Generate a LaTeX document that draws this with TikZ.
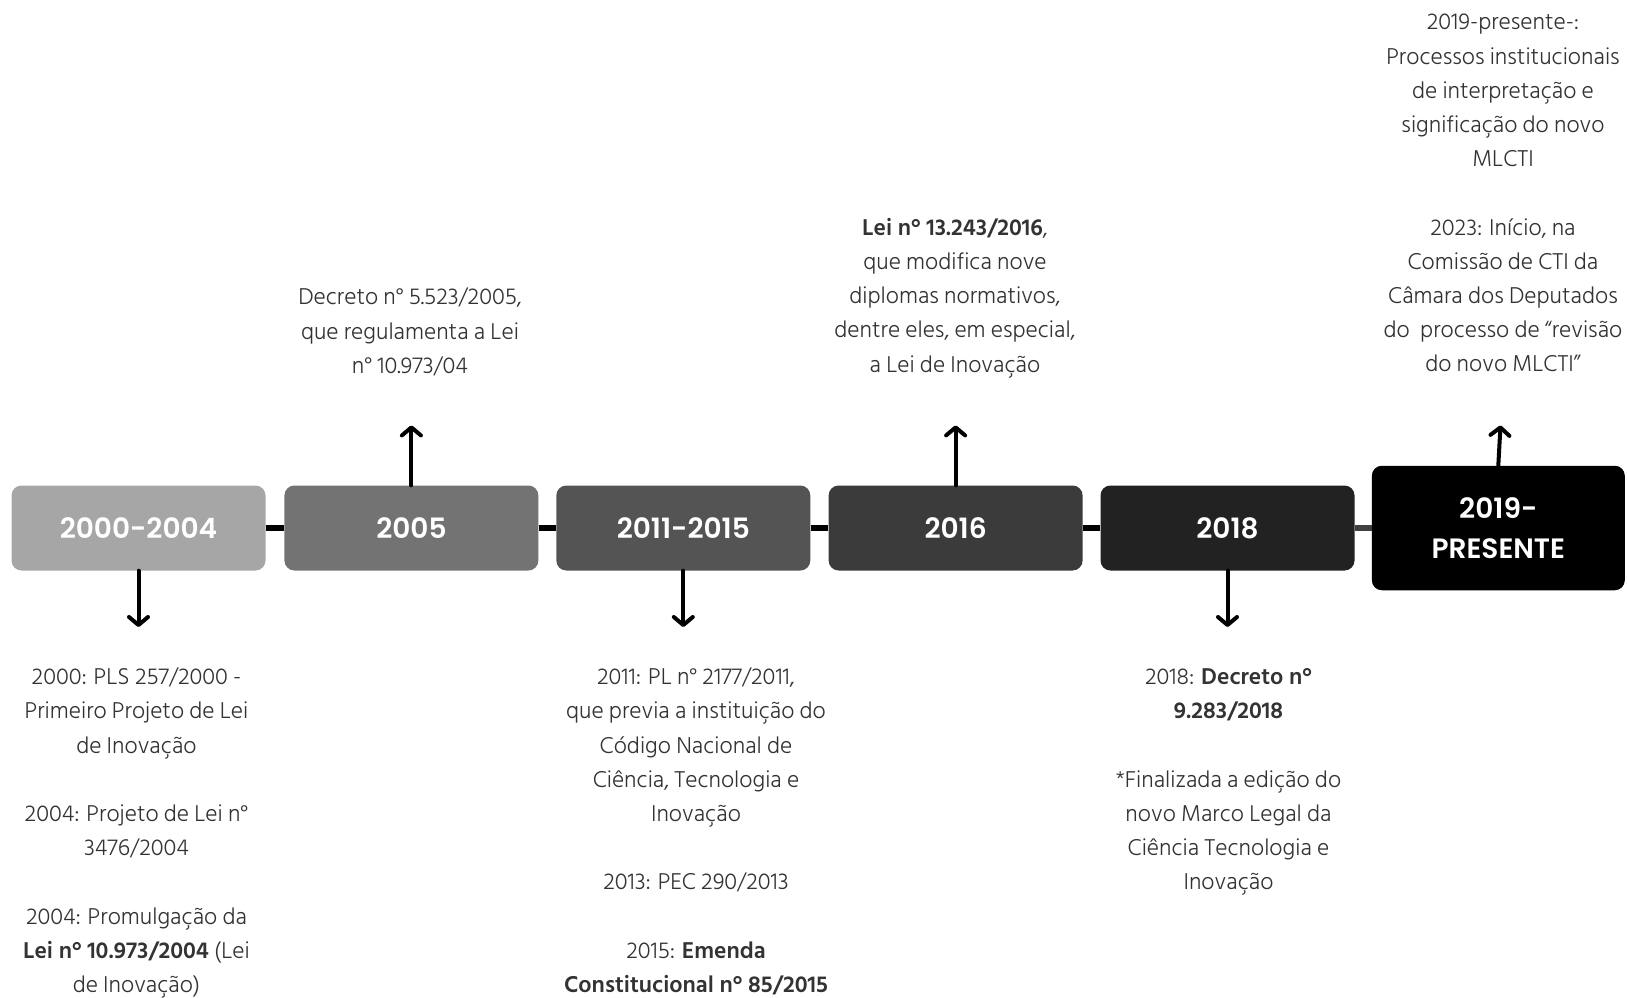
\documentclass[tikz,border=0pt]{standalone}
\usepackage{fontspec}
\setmainfont{Hind Siliguri}[UprightFont=* Light, BoldFont=* SemiBold]
\newfontfamily\boxfont{Poppins SemiBold}
\usetikzlibrary{arrows.meta}
\definecolor{txt}{HTML}{333333}
\definecolor{c1}{HTML}{A6A6A6}
\definecolor{c2}{HTML}{737373}
\definecolor{c3}{HTML}{545454}
\definecolor{c4}{HTML}{3B3B3B}
\definecolor{c5}{HTML}{222222}
\definecolor{c6}{HTML}{000000}
\definecolor{lastlink}{HTML}{404040}
\begin{document}
\begin{tikzpicture}[x=1pt,y=-1pt,
  yearbox/.style={rounded corners=10pt, minimum width=254pt, minimum height=85pt, inner sep=0pt, text=white, align=center,
    font=\boxfont\fontsize{28}{40}\selectfont},
  note/.style={anchor=north, inner sep=0pt, align=center, text=txt, font=\fontsize{23.5}{34.2}\selectfont},
  link/.style={line width=6pt},
  ptr/.style={line width=4pt, line cap=round, -{Straight Barb[length=8pt,width=19pt,round]}}
]
\useasboundingbox (0,0) rectangle (1627,998);

% year boxes
\node[yearbox, fill=c1] (b1) at (138.5,528) {2000-2004};
\node[yearbox, fill=c2] (b2) at (411.4,528) {2005};
\node[yearbox, fill=c3] (b3) at (683.3,528) {2011-2015};
\node[yearbox, fill=c4] (b4) at (955.6,528) {2016};
\node[yearbox, fill=c5] (b5) at (1227.5,528) {2018};
\node[yearbox, fill=c6, minimum width=253pt, minimum height=124.5pt] (b6) at (1498.3,528) {2019-\\PRESENTE};

% links
\draw[link] (b1.east) -- (b2.west);
\draw[link] (b2.east) -- (b3.west);
\draw[link] (b3.east) -- (b4.west);
\draw[link] (b4.east) -- (b5.west);
\draw[link, lastlink] (b5.east) -- (b6.west);

% arrow ends
\coordinate (d1) at (138.5,627);
\coordinate (u2) at (411.4,425.4);
\coordinate (d3) at (683.3,627);
\coordinate (u4) at (955.6,425.4);
\coordinate (d5) at (1227.5,627);
\coordinate (u6) at (1500.5,425.4);

\draw[ptr] (b1.south) -- (d1);
\draw[ptr] (b2.north) -- (u2);
\draw[ptr] (b3.south) -- (d3);
\draw[ptr] (b4.north) -- (u4);
\draw[ptr] (b5.south) -- (d5);
\draw[ptr] (b6.north) -- (u6);

% notes
\node[note] (n1) at (136.5,660.5) {\strut 2000: PLS 257/2000 -\\Primeiro Projeto de Lei\\de Inovação\\[34.2pt]
2004: Projeto de Lei n°\\3476/2004\\[34.2pt]
2004: Promulgação da\\\textbf{Lei n° 10.973/2004} (Lei\\de Inovação)};

\node[note] (n2) at (410,280.8) {\strut Decreto n° 5.523/2005,\\que regulamenta a Lei\\n° 10.973/04};

\node[note] (n3) at (696,660.5) {\strut 2011: PL n° 2177/2011,\\que previa a instituição do\\Código Nacional de\\Ciência, Tecnologia e\\Inovação\\[34.2pt]
2013: PEC 290/2013\\[34.2pt]
2015: \textbf{Emenda}\\\textbf{Constitucional n° 85/2015}};

\node[note] (n4) at (955,211.2) {\strut\textbf{Lei n° 13.243/2016},\\que modifica nove\\diplomas normativos,\\dentre eles, em especial,\\a Lei de Inovação};

\node[note] (n5) at (1228.5,660.5) {\strut 2018: \textbf{Decreto n°}\\\textbf{9.283/2018}\\[34.2pt]
*Finalizada a edição do\\novo Marco Legal da\\Ciência Tecnologia e\\Inovação};

\node[note] (n6) at (1503,5.8) {\strut 2019-presente-:\\Processos institucionais\\de interpretação e\\significação do novo\\MLCTI\\[34.2pt]
2023: Início, na\\Comissão de CTI da\\Câmara dos Deputados\\do\ \ processo de “revisão\\do novo MLCTI”};
\end{tikzpicture}
\end{document}
